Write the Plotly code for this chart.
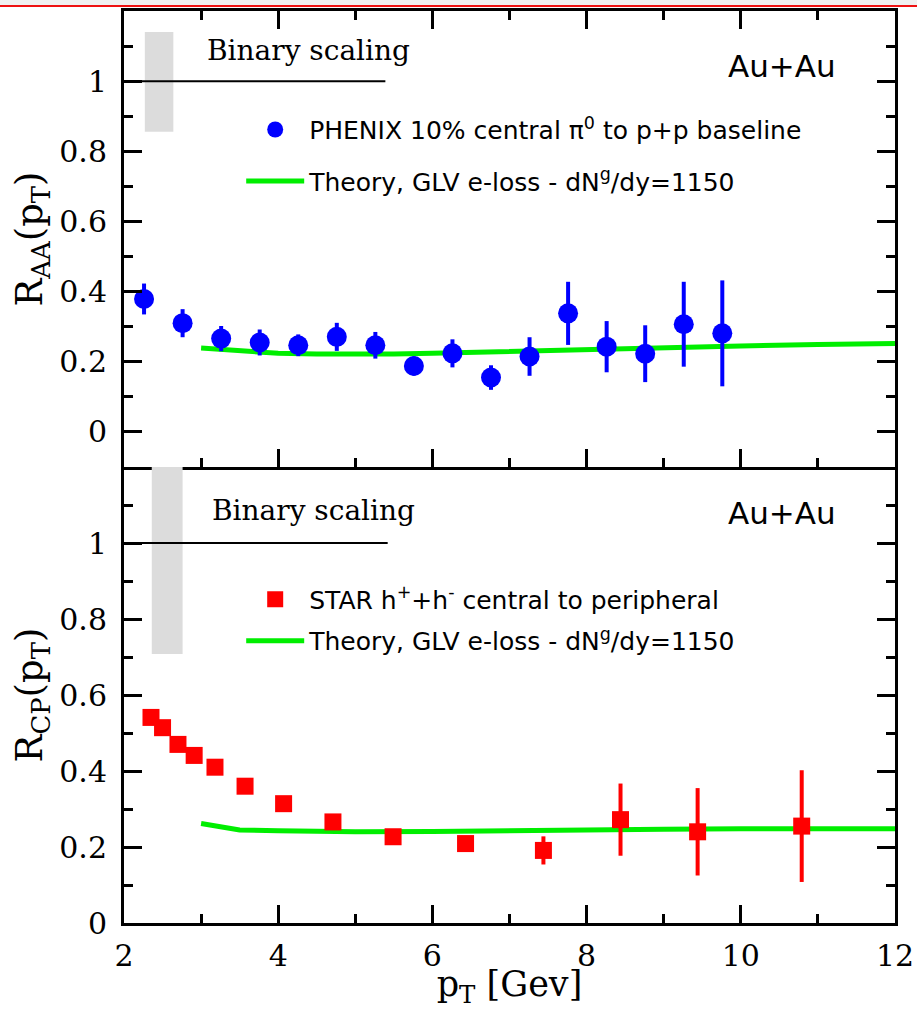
import plotly.graph_objects as go
from plotly.subplots import make_subplots

# ---------------- data ----------------
# Top panel: PHENIX 10% central pi0 R_AA
phenix_pt = [2.26, 2.76, 3.26, 3.76, 4.26, 4.76, 5.26, 5.76, 6.26, 6.76, 7.26, 7.76, 8.26, 8.76, 9.26, 9.76]
phenix_raa = [0.379, 0.310, 0.266, 0.255, 0.247, 0.271, 0.247, 0.188, 0.224, 0.155, 0.215, 0.338, 0.243, 0.223, 0.307, 0.281]
phenix_err = [0.044, 0.040, 0.036, 0.037, 0.031, 0.040, 0.038, 0.027, 0.040, 0.035, 0.055, 0.090, 0.073, 0.081, 0.121, 0.151]

theory_top_pt = [3.0, 3.5, 4.0, 4.5, 5.0, 5.5, 6.0, 6.5, 7.0, 7.5, 8.0, 9.0, 10.0, 11.0, 12.0]
theory_top_r = [0.239, 0.230, 0.224, 0.222, 0.221, 0.222, 0.224, 0.227, 0.230, 0.233, 0.236, 0.241, 0.245, 0.249, 0.252]

# Bottom panel: STAR h+ + h- central to peripheral R_CP
star_pt = [2.35, 2.50, 2.70, 2.91, 3.18, 3.57, 4.07, 4.71, 5.49, 6.43, 7.44, 8.44, 9.44, 10.79]
star_rcp = [0.541, 0.514, 0.470, 0.441, 0.410, 0.360, 0.314, 0.266, 0.227, 0.209, 0.191, 0.272, 0.240, 0.255]
star_err = [0.020, 0.020, 0.015, 0.015, 0.012, 0.010, 0.010, 0.012, 0.012, 0.015, 0.037, 0.095, 0.115, 0.147]

theory_bot_pt = [3.0, 3.5, 4.0, 4.5, 5.0, 6.0, 7.0, 8.0, 9.0, 10.0, 11.0, 12.0]
theory_bot_r = [0.262, 0.245, 0.243, 0.240, 0.240, 0.241, 0.244, 0.246, 0.247, 0.248, 0.248, 0.248]

# Binary scaling reference line and systematic bands
binary_x_top = [2.0, 5.39]
binary_x_bot = [2.0, 5.42]
binary_y = [1.0, 1.0]
band_top = dict(x0=2.27, x1=2.64, y0=0.856, y1=1.14)
band_bot = dict(x0=2.36, x1=2.76, y0=0.708, y1=1.2)

x_ticks = [2, 4, 6, 8, 10, 12]
y_ticks = [0, 0.2, 0.4, 0.6, 0.8, 1.0]
y_ticktext = ["0", "0.2", "0.4", "0.6", "0.8", "1"]
y_minor = [-0.1, 0.1, 0.3, 0.5, 0.7, 0.9, 1.1]

# ---------------- styles ----------------
SERIF = "DejaVu Serif"
SANS = "DejaVu Sans"
GREEN = "#00ee00"
BLUE = "#0000ff"
RED = "#ff0000"

fig = make_subplots(rows=2, cols=1, shared_xaxes=True, vertical_spacing=0)

legend_label_phenix = "PHENIX 10% central \u03c0<sup>0</sup> to p+p baseline"
legend_label_theory = "Theory, GLV e-loss - dN<sup>g</sup>/dy=1150"
legend_label_star = "STAR h<sup>+</sup>+h<sup>-</sup> central to peripheral"

# top panel
fig.add_trace(go.Scatter(x=binary_x_top, y=binary_y, mode="lines",
                         line=dict(color="black", width=2), showlegend=False, hoverinfo="skip"),
              row=1, col=1)
fig.add_trace(go.Scatter(x=theory_top_pt, y=theory_top_r, mode="lines",
                         line=dict(color=GREEN, width=5), name=legend_label_theory,
                         legend="legend", legendgroup="t2", legendrank=2),
              row=1, col=1)
fig.add_trace(go.Scatter(x=phenix_pt, y=phenix_raa, mode="markers",
                         marker=dict(symbol="circle", size=20, color=BLUE),
                         error_y=dict(type="data", array=phenix_err, color=BLUE, thickness=4, width=0),
                         name=legend_label_phenix, legend="legend", legendgroup="t1", legendrank=1),
              row=1, col=1)

# bottom panel
fig.add_trace(go.Scatter(x=binary_x_bot, y=binary_y, mode="lines",
                         line=dict(color="black", width=2), showlegend=False, hoverinfo="skip"),
              row=2, col=1)
fig.add_trace(go.Scatter(x=theory_bot_pt, y=theory_bot_r, mode="lines",
                         line=dict(color=GREEN, width=5), name=legend_label_theory,
                         legend="legend2", legendgroup="b2", legendrank=2),
              row=2, col=1)
fig.add_trace(go.Scatter(x=star_pt, y=star_rcp, mode="markers",
                         marker=dict(symbol="square", size=17, color=RED),
                         error_y=dict(type="data", array=star_err, color=RED, thickness=4, width=0),
                         name=legend_label_star, legend="legend2", legendgroup="b1", legendrank=1),
              row=2, col=1)

# grey systematic bands (below data)
for b, xr, yr in [(band_top, "x", "y"), (band_bot, "x2", "y2")]:
    fig.add_shape(type="rect", xref=xr, yref=yr, x0=b["x0"], x1=b["x1"], y0=b["y0"], y1=b["y1"],
                  fillcolor="#dcdcdc", line=dict(width=0), layer="below")

# header strip at the very top of the page
fig.add_shape(type="rect", xref="paper", yref="paper", x0=-0.2, x1=1.1, y0=1.0055, y1=1.02,
              fillcolor="#f0f0f0", line=dict(width=0))
fig.add_shape(type="line", xref="paper", yref="paper", x0=-0.2, x1=1.1, y0=1.0055, y1=1.0055,
              line=dict(color="#ee1111", width=2))

axis_common = dict(showline=True, linecolor="black", linewidth=3, ticks="inside",
                   ticklen=18, tickwidth=3, tickcolor="black", showgrid=False, zeroline=False,
                   automargin=False,
                   tickfont=dict(family=SERIF, size=30, color="black"))

fig.update_xaxes(**axis_common, range=[2, 12], tickmode="array", tickvals=x_ticks,
                 minor=dict(ticks="inside", ticklen=9, tickwidth=3, tickcolor="black", dtick=1, tick0=0))
fig.update_xaxes(mirror="ticks", showticklabels=False, row=1, col=1)
fig.update_xaxes(mirror=False, ticklabelstandoff=4, row=2, col=1,
                 title=dict(text="p<sub>T</sub> [Gev]", font=dict(family=SERIF, size=35, color="black"),
                            standoff=8))

fig.update_yaxes(**axis_common, mirror="ticks", tickmode="array", tickvals=y_ticks, ticktext=y_ticktext,
                 ticklabelstandoff=8,
                 minor=dict(ticks="inside", ticklen=9, tickwidth=3, tickcolor="black", tickvals=y_minor))
fig.update_yaxes(range=[-0.1, 1.2], row=1, col=1,
                 title=dict(text="R<sub>AA</sub>(p<sub>T</sub>)", font=dict(family=SERIF, size=37, color="black"),
                            standoff=6))
fig.update_yaxes(range=[0, 1.2], row=2, col=1,
                 title=dict(text="R<sub>CP</sub>(p<sub>T</sub>)", font=dict(family=SERIF, size=37, color="black"),
                            standoff=6))

# text annotations
fig.add_annotation(x=3.05, y=1.087, xref="x", yref="y", text="Binary scaling", showarrow=False,
                   xanchor="left", yanchor="middle", font=dict(family=SERIF, size=28, color="black"))
fig.add_annotation(x=3.12, y=1.085, xref="x2", yref="y2", text="Binary scaling", showarrow=False,
                   xanchor="left", yanchor="middle", font=dict(family=SERIF, size=28, color="black"))
fig.add_annotation(x=10.54, y=1.044, xref="x", yref="y", text="Au+Au", showarrow=False,
                   xanchor="center", yanchor="middle", font=dict(family=SANS, size=31, color="black"))
fig.add_annotation(x=10.54, y=1.08, xref="x2", yref="y2", text="Au+Au", showarrow=False,
                   xanchor="center", yanchor="middle", font=dict(family=SANS, size=31, color="black"))

legend_common = dict(bgcolor="rgba(0,0,0,0)", borderwidth=0, xanchor="left", yanchor="top",
                     font=dict(family=SANS, size=25, color="black"), itemwidth=58)
fig.update_layout(
    width=917, height=1009,
    margin=dict(l=124, r=22, t=11, b=86, autoexpand=False),
    paper_bgcolor="white", plot_bgcolor="white",
    legend=dict(**legend_common, x=0.152, y=0.895, tracegroupgap=16),
    legend2=dict(**legend_common, x=0.152, y=0.38, tracegroupgap=6),
)

fig.write_html("out.html")
